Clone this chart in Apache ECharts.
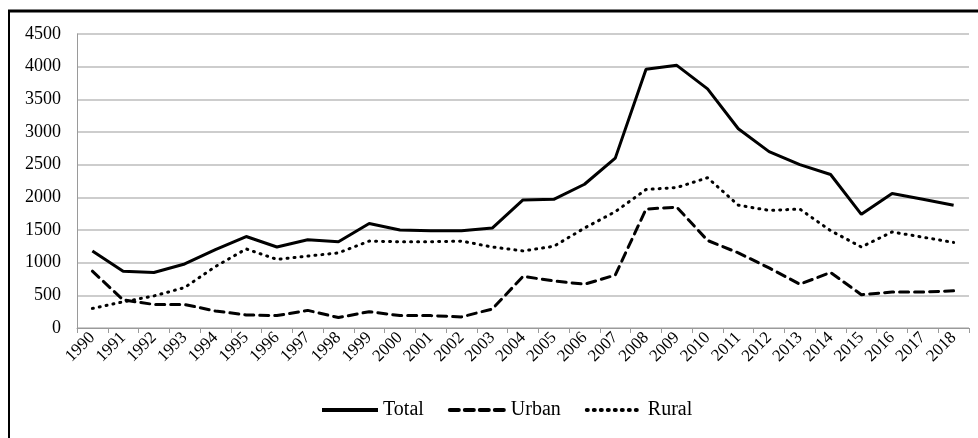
<!DOCTYPE html>
<html>
<head>
<meta charset="utf-8">
<script src="https://cdn.jsdelivr.net/npm/echarts@6/dist/echarts.min.js"></script>
<style>
  html, body { margin: 0; padding: 0; background: #fff; }
  #chart { width: 978px; height: 438px; }
</style>
</head>
<body>
<div id="chart"></div>
<script>
// 年份
const years = ['1990', '1991', '1992', '1993', '1994', '1995', '1996', '1997', '1998', '1999',
  '2000', '2001', '2002', '2003', '2004', '2005', '2006', '2007', '2008', '2009',
  '2010', '2011', '2012', '2013', '2014', '2015', '2016', '2017', '2018'];

const total = [1180, 870, 850, 980, 1200, 1400, 1240, 1350, 1320, 1600,
  1500, 1490, 1490, 1530, 1960, 1970, 2200, 2600, 3960, 4020,
  3660, 3050, 2700, 2500, 2350, 1740, 2060, 1970, 1880];

const urban = [870, 430, 360, 360, 260, 200, 190, 270, 160, 250,
  190, 190, 170, 290, 790, 720, 670, 810, 1820, 1850,
  1340, 1150, 920, 670, 850, 510, 550, 550, 570];

const rural = [300, 400, 490, 620, 940, 1210, 1050, 1100, 1150, 1330,
  1320, 1320, 1330, 1240, 1180, 1250, 1530, 1780, 2120, 2150,
  2300, 1880, 1800, 1820, 1490, 1240, 1470, 1390, 1310];

const yTicks = [0, 500, 1000, 1500, 2000, 2500, 3000, 3500, 4000, 4500];

const font = '"Liberation Serif", "Times New Roman", serif';

const chart = echarts.init(document.getElementById('chart'));

const lineSeries = (name, data, type, width) => ({
  name,
  type: 'line',
  data,
  symbol: 'none',
  animation: false,
  lineStyle: { color: '#000', width, type, cap: type === 'solid' ? 'butt' : 'round' },
  itemStyle: { color: '#000' }
});

chart.setOption({
  backgroundColor: '#fff',
  animation: false,
  grid: { left: 77, right: 9, top: 34, bottom: 110 },
  graphic: [
    { type: 'line', shape: { x1: 8, y1: 11, x2: 978, y2: 11 }, style: { stroke: '#000', lineWidth: 3 } },
    { type: 'line', shape: { x1: 9, y1: 10, x2: 9, y2: 438 }, style: { stroke: '#000', lineWidth: 2 } }
  ],
  legend: {
    bottom: 13,
    left: 315,
    itemWidth: 56,
    itemHeight: 14,
    itemGap: 24,
    itemStyle: { opacity: 0 },
    lineStyle: { width: 4 },
    textStyle: { fontFamily: font, fontSize: 20, color: '#000' },
    data: ['Total', 'Urban', 'Rural']
  },
  xAxis: {
    type: 'category',
    data: years,
    boundaryGap: true,
    axisLine: { lineStyle: { color: '#9a9a9a', width: 1 } },
    axisTick: { show: true, length: 5, lineStyle: { color: '#9a9a9a' } },
    axisLabel: { rotate: 45, interval: 0, fontFamily: font, fontSize: 17, color: '#000', margin: 7 },
    splitLine: { show: false }
  },
  yAxis: {
    type: 'value',
    min: yTicks[0],
    max: yTicks[yTicks.length - 1],
    interval: 500,
    axisLine: { show: true, lineStyle: { color: '#9a9a9a', width: 1 } },
    axisTick: { show: false },
    axisLabel: { fontFamily: font, fontSize: 18, color: '#000', margin: 16, formatter: v => String(v) },
    splitLine: { lineStyle: { color: '#bcbcbc', width: 1.5 } }
  },
  series: [
    lineSeries('Total', total, 'solid', 3),
    lineSeries('Urban', urban, [9, 6], 3),
    lineSeries('Rural', rural, [1, 6], 3)
  ]
});
</script>
</body>
</html>
